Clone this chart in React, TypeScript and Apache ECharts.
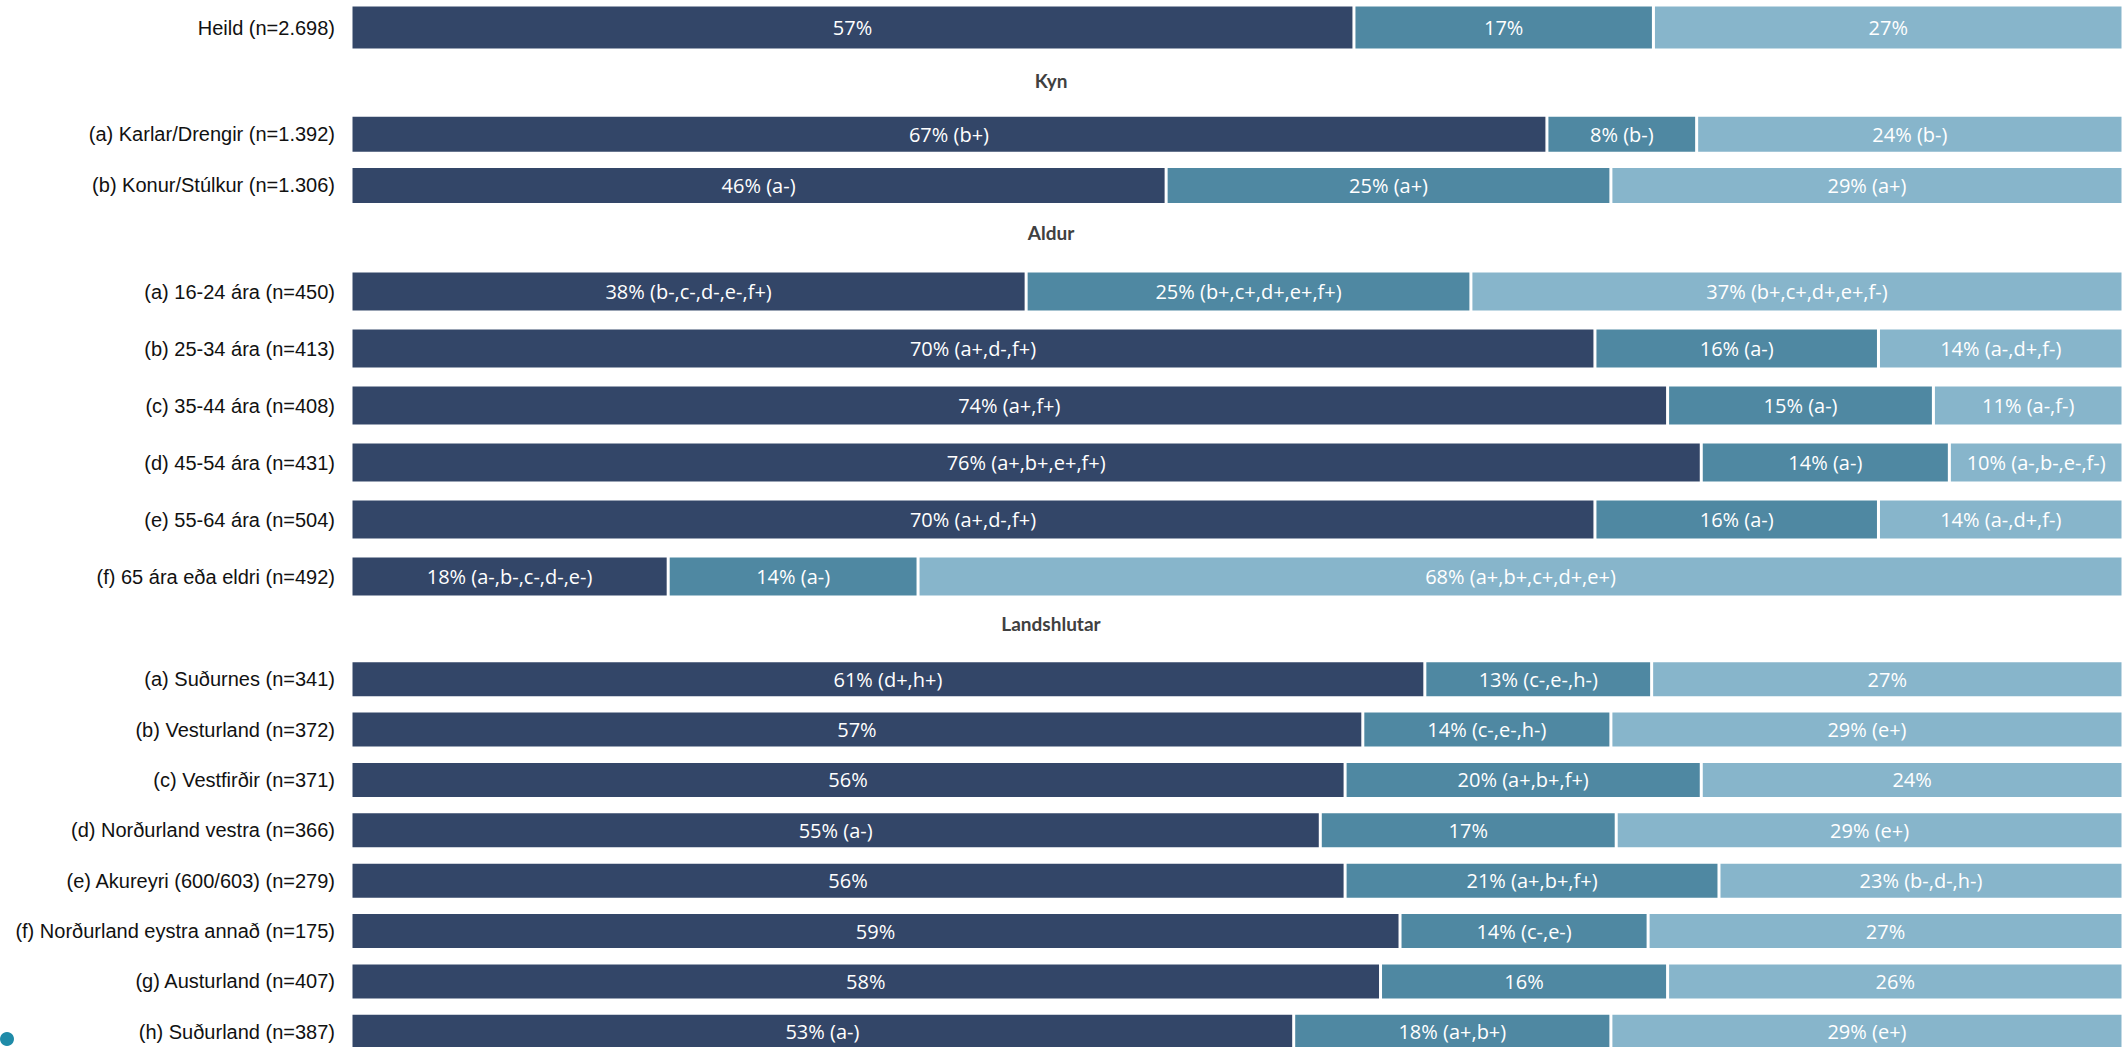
import React, { useEffect, useRef } from "react";
import * as echarts from "echarts";

// ---------- Data ----------
const heildCategories = ["Heild (n=2.698)"];
const heildDark = [56.6];
const heildMid = [16.9];
const heildLight = [26.5];
const heildDarkSig = [""];
const heildMidSig = [""];
const heildLightSig = [""];

const kynCategories = ["(a) Karlar/Drengir (n=1.392)", "(b) Konur/Stúlkur (n=1.306)"];
const kynDark = [67.49, 46.0];
const kynMid = [8.45, 25.1];
const kynLight = [24.06, 28.9];
const kynDarkSig = [" (b+)", " (a-)"];
const kynMidSig = [" (b-)", " (a+)"];
const kynLightSig = [" (b-)", " (a+)"];

const aldurCategories = [
  "(a) 16-24 ára (n=450)",
  "(b) 25-34 ára (n=413)",
  "(c) 35-44 ára (n=408)",
  "(d) 45-54 ára (n=431)",
  "(e) 55-64 ára (n=504)",
  "(f) 65 ára eða eldri (n=492)",
];
const aldurDark = [38.1, 70.2, 74.3, 76.2, 70.2, 17.9];
const aldurMid = [25.1, 16.0, 15.0, 14.0, 16.0, 14.1];
const aldurLight = [36.8, 13.8, 10.7, 9.8, 13.8, 68.0];
const aldurDarkSig = [" (b-,c-,d-,e-,f+)", " (a+,d-,f+)", " (a+,f+)", " (a+,b+,e+,f+)", " (a+,d-,f+)", " (a-,b-,c-,d-,e-)"];
const aldurMidSig = [" (b+,c+,d+,e+,f+)", " (a-)", " (a-)", " (a-)", " (a-)", " (a-)"];
const aldurLightSig = [" (b+,c+,d+,e+,f-)", " (a-,d+,f-)", " (a-,f-)", " (a-,b-,e-,f-)", " (a-,d+,f-)", " (a+,b+,c+,d+,e+)"];

const landCategories = [
  "(a) Suðurnes (n=341)",
  "(b) Vesturland (n=372)",
  "(c) Vestfirðir (n=371)",
  "(d) Norðurland vestra (n=366)",
  "(e) Akureyri (600/603) (n=279)",
  "(f) Norðurland eystra annað (n=175)",
  "(g) Austurland (n=407)",
  "(h) Suðurland (n=387)",
];
const landDark = [60.6, 57.1, 56.1, 54.7, 56.1, 59.2, 58.1, 53.2];
const landMid = [12.8, 14.0, 20.1, 16.7, 21.1, 14.0, 16.2, 17.9];
const landLight = [26.6, 28.9, 23.8, 28.6, 22.8, 26.8, 25.7, 28.9];
const landDarkSig = [" (d+,h+)", "", "", " (a-)", "", "", "", " (a-)"];
const landMidSig = [" (c-,e-,h-)", " (c-,e-,h-)", " (a+,b+,f+)", "", " (a+,b+,f+)", " (c-,e-)", "", " (a+,b+)"];
const landLightSig = ["", " (e+)", "", " (e+)", " (b-,d-,h-)", "", "", " (e+)"];

const sectionTitles = ["Kyn", "Aldur", "Landshlutar"];

// ---------- Styles ----------
const COLORS = ["#334668", "#4f88a2", "#87b5cb"];

type Group = {
  cats: string[];
  vals: number[][];
  sigs: string[][];
  top: number;
  height: number;
  barWidth: number;
};

const groups: Group[] = [
  { cats: heildCategories, vals: [heildDark, heildMid, heildLight], sigs: [heildDarkSig, heildMidSig, heildLightSig], top: 0, height: 55, barWidth: 45 },
  { cats: kynCategories, vals: [kynDark, kynMid, kynLight], sigs: [kynDarkSig, kynMidSig, kynLightSig], top: 108.5, height: 102.6, barWidth: 38 },
  { cats: aldurCategories, vals: [aldurDark, aldurMid, aldurLight], sigs: [aldurDarkSig, aldurMidSig, aldurLightSig], top: 263, height: 342, barWidth: 41 },
  { cats: landCategories, vals: [landDark, landMid, landLight], sigs: [landDarkSig, landMidSig, landLightSig], top: 654, height: 403, barWidth: 37 },
];

const titlePos = [80, 232, 623];

export default function App() {
  const ref = useRef<HTMLDivElement>(null);

  useEffect(() => {
    if (!ref.current) return;
    const chart = echarts.init(ref.current, null, { renderer: "svg" });

    const grid = groups.map((g) => ({ left: 351, right: 0, top: g.top, height: g.height }));
    const xAxis = groups.map((_, i) => ({
      type: "value",
      gridIndex: i,
      min: 0,
      max: 100,
      show: false,
    }));
    const yAxis = groups.map((g, i) => ({
      type: "category",
      gridIndex: i,
      data: g.cats,
      inverse: true,
      axisLine: { show: false },
      axisTick: { show: false },
      splitLine: { show: false },
      axisLabel: {
        margin: 16,
        fontFamily: "Liberation Sans, Arial, sans-serif",
        fontSize: 20,
        color: "#111111",
      },
    }));
    const series: any[] = [];
    groups.forEach((g, gi) => {
      g.vals.forEach((vals, si) => {
        const sig = g.sigs[si];
        series.push({
          type: "bar",
          name: ["A", "B", "C"][si],
          xAxisIndex: gi,
          yAxisIndex: gi,
          stack: "s" + gi,
          barWidth: g.barWidth,
          data: vals,
          itemStyle: { color: COLORS[si], borderColor: "#ffffff", borderWidth: 1.5 },
          label: {
            show: true,
            position: "inside",
            color: "#ffffff",
            fontFamily: "Open Sans, sans-serif",
            fontSize: 20,
            formatter: (p: any) => `${Math.round(p.value)}%${sig[p.dataIndex]}`,
          },
        });
      });
    });

    const graphic: any[] = sectionTitles.map((t, i) => ({
      type: "text",
      x: 1051,
      y: titlePos[i],
      style: {
        text: t,
        fill: "#404040",
        font: "bold 19px Lato, sans-serif",
        textAlign: "center",
        textVerticalAlign: "middle",
      },
    }));
    graphic.push({
      type: "circle",
      shape: { cx: 7, cy: 1039, r: 7 },
      style: { fill: "#1f8ba8" },
    });

    chart.setOption({
      animation: false,
      grid,
      xAxis,
      yAxis,
      series,
      graphic,
    });
    return () => chart.dispose();
  }, []);

  return (
    <div
      style={{ position: "fixed", left: 0, top: 0, width: 2123, height: 1047, overflow: "hidden", background: "#ffffff" }}
    >
      <div ref={ref} style={{ width: 2123, height: 1070 }} />
    </div>
  );
}
